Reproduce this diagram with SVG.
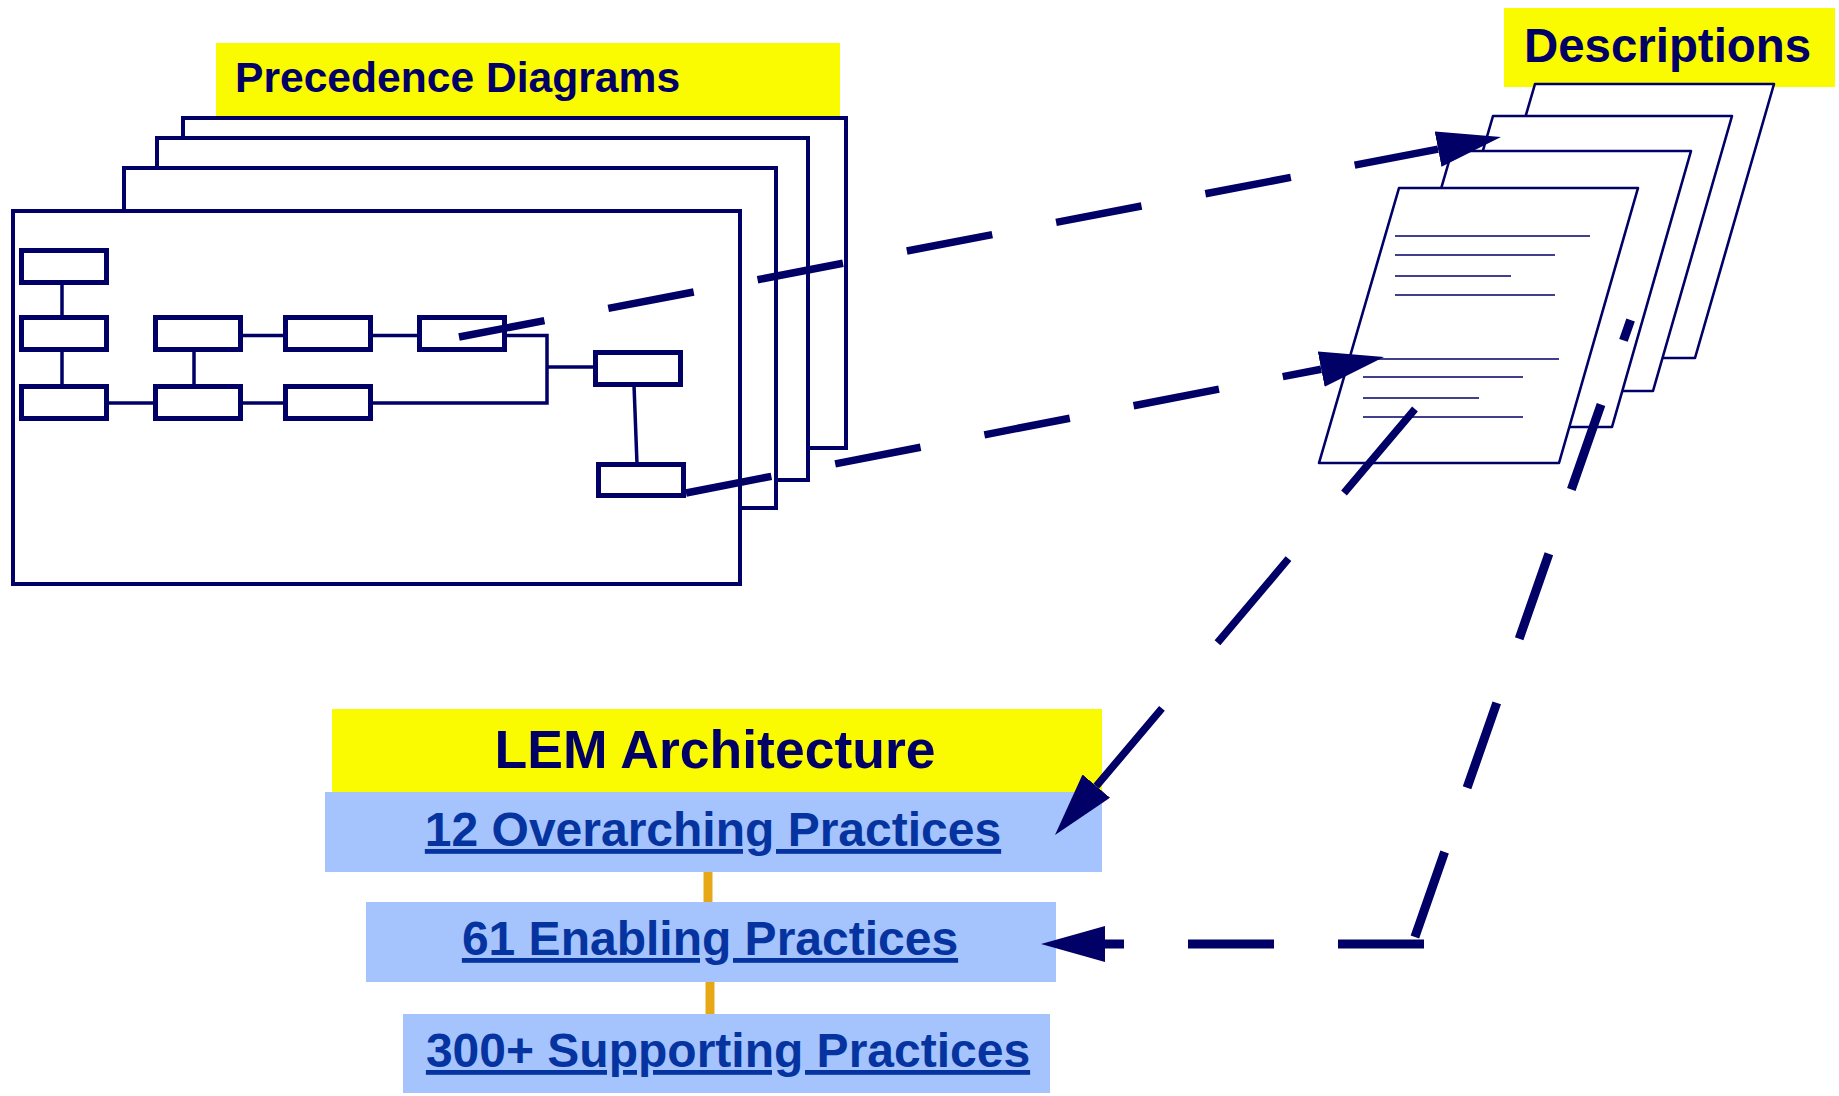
<svg xmlns="http://www.w3.org/2000/svg" width="1839" height="1096" viewBox="0 0 1839 1096">
<defs>
<style>
.lbl{fill:#FAFA00}
.ttl{font-family:"Liberation Sans",Arial,sans-serif;font-weight:bold;fill:#000066}
.sheet{fill:#FFFFFF;stroke:#000066;stroke-width:4}
.box{fill:#FFFFFF;stroke:#000066;stroke-width:5}
.wire{fill:none;stroke:#000066;stroke-width:3.5}
.page{fill:#FFFFFF;stroke:#000066;stroke-width:2.6;stroke-linejoin:round}
.txtline{stroke:#000066;stroke-width:1.3}
.prac{fill:#A5C3FD}
.link{font-family:"Liberation Sans",Arial,sans-serif;font-weight:bold;font-size:48px;fill:#0533A0;text-decoration:underline;text-anchor:middle}
.tie{stroke:#E6A817;stroke-width:9}
.dash{fill:none;stroke:#000066;stroke-width:7.5;stroke-dasharray:87 65}
</style>
<marker id="ah" markerUnits="userSpaceOnUse" viewBox="0 0 64 36" refX="0" refY="18" markerWidth="64" markerHeight="36" orient="auto">
<path d="M0,0 L64,18 L0,36 z" fill="#000066"/>
</marker>
</defs>
<rect width="1839" height="1096" fill="#FFFFFF"/>

<g id="precedence-diagrams">
<rect class="lbl" x="216" y="43" width="624" height="75"/>
<text class="ttl" x="235" y="92" font-size="42.6">Precedence Diagrams</text>
<rect class="sheet" x="183" y="118" width="663" height="330"/>
<rect class="sheet" x="157" y="138" width="651" height="342"/>
<rect class="sheet" x="124" y="168" width="652" height="340"/>
<rect class="sheet" x="13" y="211" width="727" height="373"/>
<g id="network-wires">
<line class="wire" x1="62" y1="283" x2="62" y2="317"/>
<line class="wire" x1="62" y1="350" x2="62" y2="386"/>
<line class="wire" x1="194" y1="350" x2="194" y2="386"/>
<line class="wire" x1="241" y1="335.5" x2="285" y2="335.5"/>
<line class="wire" x1="371" y1="335.5" x2="419" y2="335.5"/>
<line class="wire" x1="107" y1="403" x2="155" y2="403"/>
<line class="wire" x1="241" y1="403" x2="285" y2="403"/>
<polyline class="wire" points="505,335.5 547,335.5 547,403 371,403"/>
<line class="wire" x1="547" y1="367" x2="595" y2="367"/>
<line class="wire" x1="634" y1="385" x2="637" y2="464"/>
</g>
<rect class="box" x="21.5" y="250.5" width="85" height="32"/>
<rect class="box" x="21.5" y="317.5" width="85" height="32"/>
<rect class="box" x="155.5" y="317.5" width="85" height="32"/>
<rect class="box" x="285.5" y="317.5" width="85" height="32"/>
<rect class="box" x="419.5" y="317.5" width="85" height="32"/>
<rect class="box" x="21.5" y="386.5" width="85" height="32"/>
<rect class="box" x="155.5" y="386.5" width="85" height="32"/>
<rect class="box" x="285.5" y="386.5" width="85" height="32"/>
<rect class="box" x="595.5" y="352.5" width="85" height="32"/>
<rect class="box" x="598.5" y="464.5" width="85" height="31"/>
</g>

<g id="descriptions">
<rect class="lbl" x="1504" y="8" width="331" height="79"/>
<text class="ttl" x="1524" y="62" font-size="47.4">Descriptions</text>
<polygon class="page" points="1535,84 1774,84 1695,358 1455,358"/>
<polygon class="page" points="1493,116 1732,116 1653,391 1413,391"/>
<polygon class="page" points="1452,151 1691,151 1612,427 1372,427"/>
<polygon class="page" points="1399,188 1638,188 1559,463 1319,463"/>
<line class="txtline" x1="1395" y1="236" x2="1590" y2="236"/>
<line class="txtline" x1="1395" y1="255" x2="1555" y2="255"/>
<line class="txtline" x1="1395" y1="276" x2="1511" y2="276"/>
<line class="txtline" x1="1395" y1="295" x2="1555" y2="295"/>
<line class="txtline" x1="1363" y1="359" x2="1559" y2="359"/>
<line class="txtline" x1="1363" y1="377" x2="1523" y2="377"/>
<line class="txtline" x1="1363" y1="398" x2="1479" y2="398"/>
<line class="txtline" x1="1363" y1="417" x2="1523" y2="417"/>
</g>

<g id="lem-architecture">
<rect class="lbl" x="332" y="709" width="770" height="84"/>
<text class="ttl" x="715" y="768" font-size="53.5" text-anchor="middle">LEM Architecture</text>
</g>
<g id="practice-ties">
<line class="tie" x1="708" y1="871" x2="708" y2="903"/>
<line class="tie" x1="710" y1="981" x2="710" y2="1015"/>
</g>
<g id="overarching-practices">
<rect class="prac" x="325" y="792" width="777" height="80"/>
<text class="link" x="713" y="846">12 Overarching Practices</text>
</g>
<g id="enabling-practices">
<rect class="prac" x="366" y="902" width="690" height="80"/>
<text class="link" x="710" y="955">61 Enabling Practices</text>
</g>
<g id="supporting-practices">
<rect class="prac" x="403" y="1014" width="647" height="79"/>
<text class="link" x="728" y="1067">300+ Supporting Practices</text>
</g>

<g id="connectors">
<path class="dash" d="M459,337 L1438.1,149.1" marker-end="url(#ah)"/>
<path class="dash" d="M686,493 L1321.2,369.2" marker-end="url(#ah)"/>
<path class="dash" d="M1415,409 L1096.3,786.1" style="stroke-dasharray:110 86" marker-end="url(#ah)"/>
<path class="dash" d="M1630.6,320 L1414.9,937" style="stroke-width:9;stroke-dasharray:90 68;stroke-dashoffset:68.4"/>
<path class="dash" d="M1424,944 L1105,944" style="stroke-width:9;stroke-dasharray:86 64" marker-end="url(#ah)"/>
</g>
</svg>
